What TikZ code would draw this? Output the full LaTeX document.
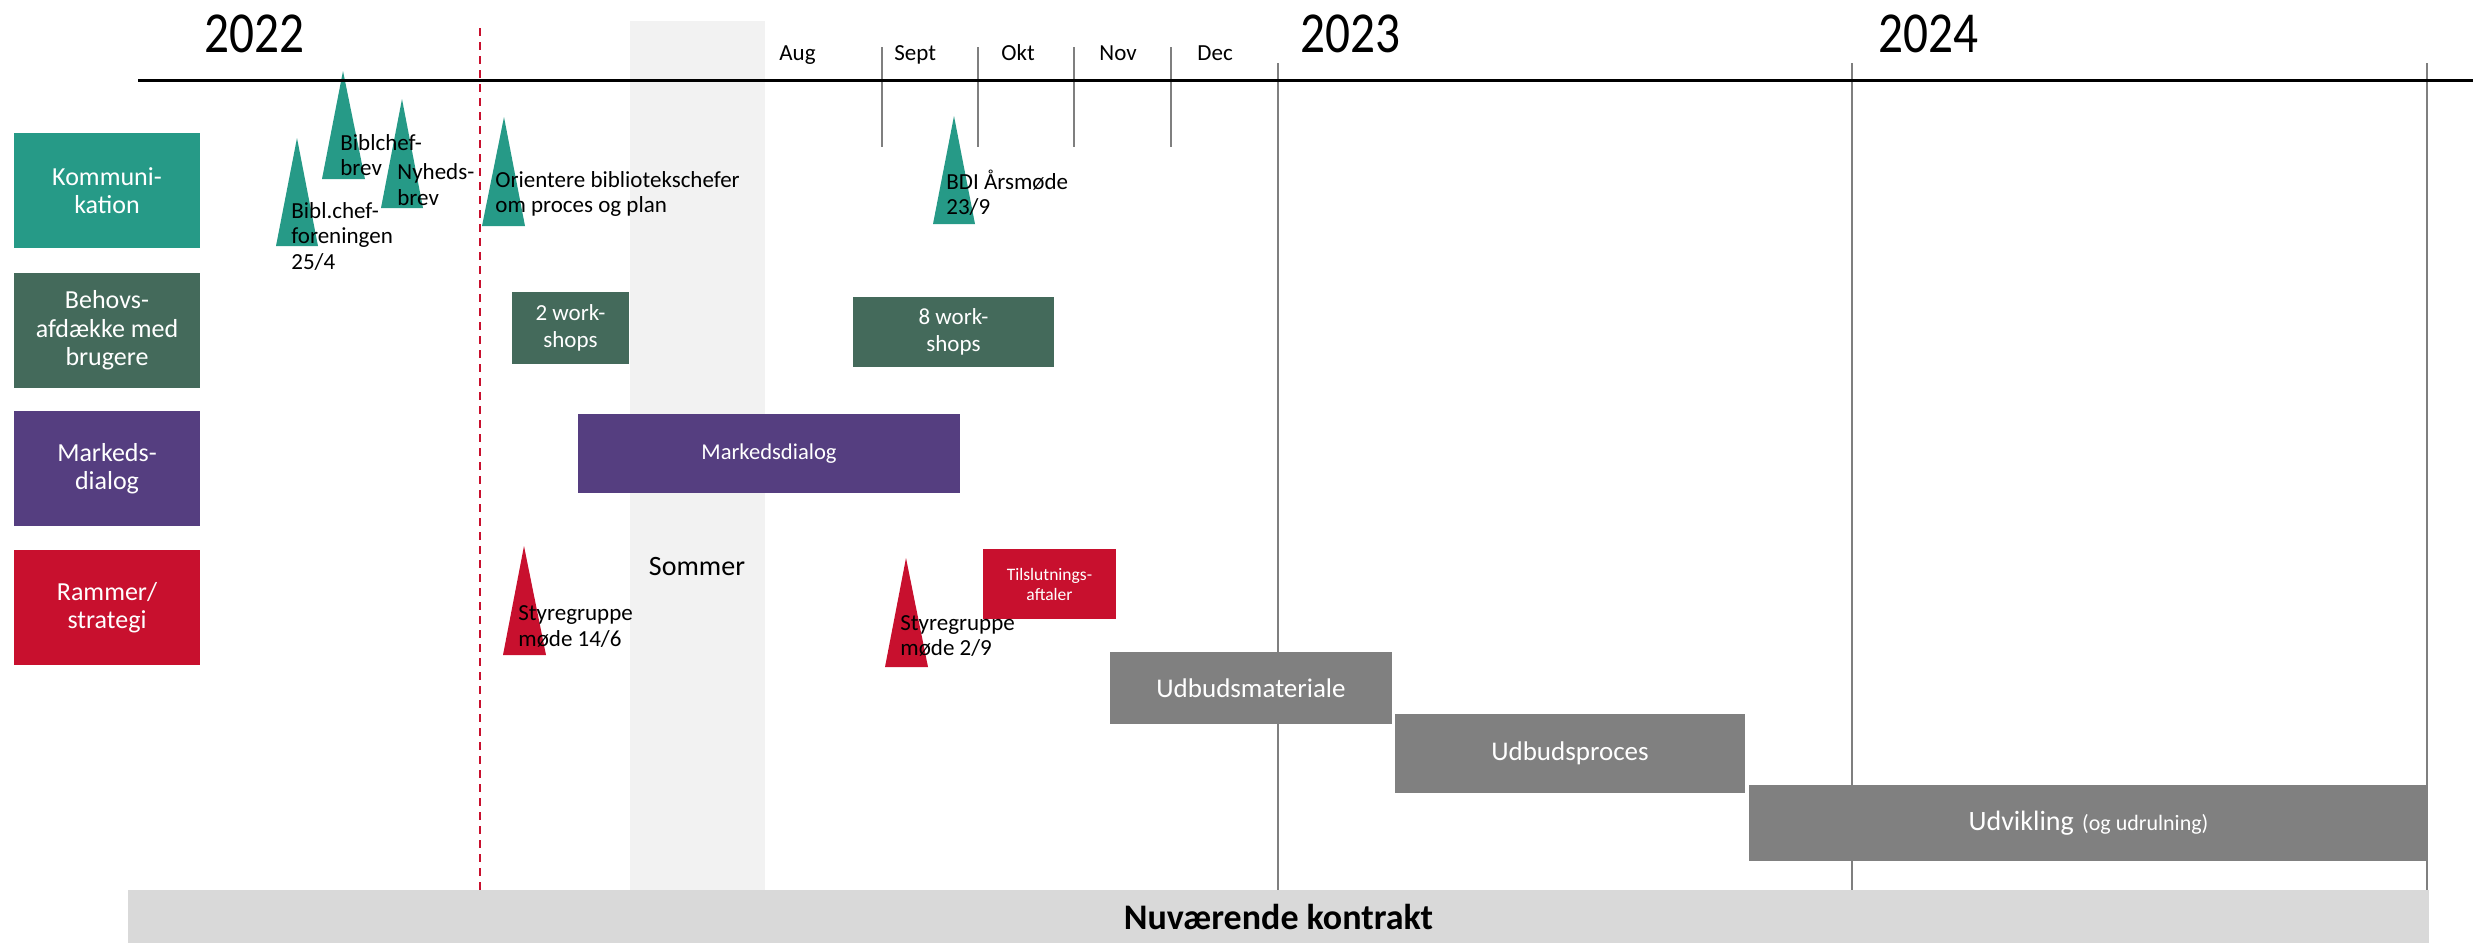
\documentclass[tikz,border=0pt]{standalone}
\usepackage{fontspec}
\setmainfont{Carlito}
\newfontfamily\yearfont{Carlito}[FakeStretch=0.85]
\definecolor{kteal}{HTML}{269A87}
\definecolor{kgreen}{HTML}{446A5B}
\definecolor{kpurple}{HTML}{553E80}
\definecolor{kred}{HTML}{C8102E}
\definecolor{kgray}{HTML}{808080}
\definecolor{gridgray}{HTML}{7F7F7F}
\definecolor{summer}{HTML}{F2F2F2}
\definecolor{nugray}{HTML}{D9D9D9}
\begin{document}
\begin{tikzpicture}[x=0.5pt,y=-0.5pt,
  rowlabel/.style={rectangle, fill=#1, text=white, inner sep=0pt, minimum width=93pt, minimum height=57.5pt, align=center, font=\fontsize{13pt}{14.25pt}\selectfont},
  bar/.style={rectangle, fill=#1, text=white, inner sep=0pt, align=center},
  note/.style={anchor=west, inner sep=0pt, align=left, font=\fontsize{11.5pt}{12.75pt}\selectfont},
  month/.style={anchor=base west, inner sep=0pt, font=\fontsize{11.5pt}{13pt}\selectfont},
  year/.style={anchor=base west, inner sep=0pt, font=\yearfont\fontsize{29pt}{30pt}\selectfont},
  gridline/.style={draw=gridgray, line width=1pt},
  wsfont/.style={font=\fontsize{11.5pt}{13.5pt}\selectfont},
  bigfont/.style={font=\fontsize{13.5pt}{15pt}\selectfont}
]
\useasboundingbox (0,0) rectangle (2473,943);
% summer band
\fill[summer] (630,21) rectangle (765,890);
% year lines
\draw[gridline] (1278,63) -- (1278,890);
\draw[gridline] (1852,63) -- (1852,890);
\draw[gridline] (2427,63) -- (2427,943);
% month ticks
\draw[gridline] (882,47) -- (882,147);
\draw[gridline] (978,47) -- (978,147);
\draw[gridline] (1074,47) -- (1074,147);
\draw[gridline] (1171,47) -- (1171,147);
% red dashed line
\draw[kred, line width=1pt, dash pattern=on 3.75pt off 3.25pt] (480,28) -- (480,890);
% milestone triangles
\fill[kteal] (276,246) -- (297,138) -- (318,246) -- cycle;
\fill[kteal] (322,179) -- (343,71) -- (365,179) -- cycle;
\fill[kteal] (381,208) -- (402,99) -- (423,208) -- cycle;
\fill[kteal] (482,226) -- (504,117) -- (525,226) -- cycle;
\fill[kteal] (933,224) -- (954,116) -- (975,224) -- cycle;
\fill[kred] (503,655) -- (524,546) -- (546,655) -- cycle;
\fill[kred] (885,667) -- (906,558) -- (928,667) -- cycle;
% axis
\draw[line width=1.5pt] (138,80) -- (2473,80);
% years and months
\node[year] (y22) at (204,52) {2022};
\node[year] (y23) at (1300,52) {2023};
\node[year] (y24) at (1878,52) {2024};
\node[month] (aug) at (779,60) {Aug};
\node[month] (sep) at (894,60) {Sept};
\node[month] (okt) at (1001,60) {Okt};
\node[month] (nov) at (1099,60) {Nov};
\node[month] (dec) at (1197,60) {Dec};
% row labels
\node[rowlabel=kteal] (komm) at (107,190.5) {Kommuni-\\kation};
\node[rowlabel=kgreen] (behov) at (107,330.5) {Behovs-\\afdække med\\brugere};
\node[rowlabel=kpurple] (marked) at (107,468.5) {Markeds-\\dialog};
\node[rowlabel=kred] (rammer) at (107,607.5) {Rammer/\\strategi};
% bars
\node[bar=kgreen, wsfont, minimum width=58.5pt, minimum height=36pt] (ws2) at (570.5,328) {2 work-\\shops};
\node[bar=kgreen, wsfont, minimum width=100.5pt, minimum height=35pt] (ws8) at (953.5,332) {8 work-\\shops};
\node[bar=kpurple, minimum width=191pt, minimum height=39.5pt, font=\fontsize{11.3pt}{13pt}\selectfont] (mdialog) at (769,453.5) {Markedsdialog};
\node[bar=kred, minimum width=66.5pt, minimum height=35pt, font=\fontsize{8.75pt}{10pt}\selectfont] (tilslut) at (1049.5,584) {Tilslutnings-\\aftaler};
\node[bar=kgray, bigfont, minimum width=141pt, minimum height=36pt] (umat) at (1251,688) {Udbudsmateriale};
\node[bar=kgray, bigfont, minimum width=175pt, minimum height=39.5pt] (uproc) at (1570,753.5) {Udbudsproces};
\node[bar=kgray, minimum width=339.5pt, minimum height=38pt, font=\fontsize{14pt}{16pt}\selectfont] (udv) at (2088.5,823) {Udvikling\hspace{1pt} {\fontsize{11pt}{12pt}\selectfont(og udrulning)}};
\node[bar=nugray, text=black, minimum width=1150.5pt, minimum height=26.5pt, font=\bfseries\fontsize{18pt}{20pt}\selectfont] (nu) at (1278.5,916.5) {Nuværende kontrakt};
% summer label
\node[inner sep=0pt, font=\fontsize{14pt}{16pt}\selectfont] (sommer) at (697,566) {Sommer};
% notes
\node[note] (n1) at (291,236) {Bibl.chef-\\foreningen\\25/4};
\node[note] (n2) at (340,155) {Biblchef-\\brev};
\node[note] (n3) at (397,184.5) {Nyheds-\\brev};
\node[note] (n4) at (495,194) {Orientere bibliotekschefer\\om proces og plan};
\node[note] (n5) at (946,192.5) {BDI Årsmøde\\23/9};
\node[note] (n6) at (518,626.5) {Styregruppe\\møde 14/6};
\node[note] (n7) at (900,636) {Styregruppe\\møde 2/9};
\end{tikzpicture}
\end{document}
